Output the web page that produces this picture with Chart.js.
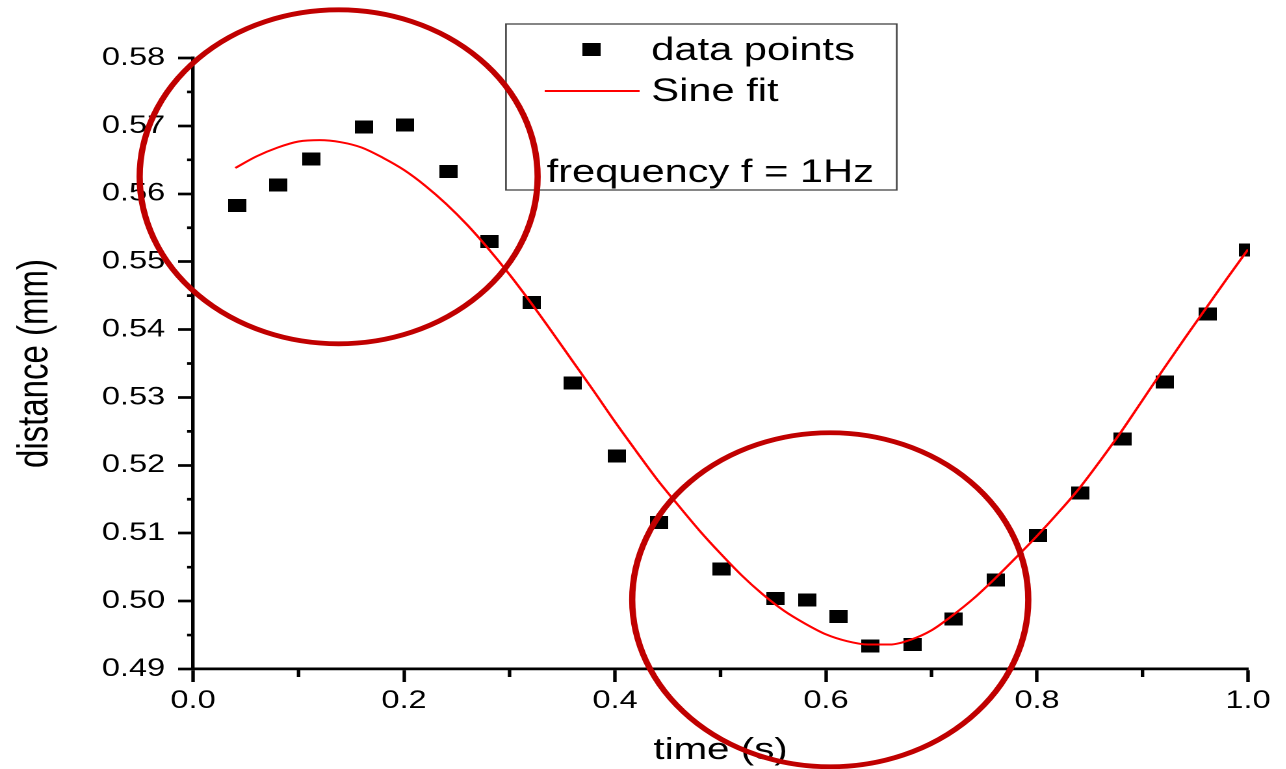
<!DOCTYPE html>
<html>
<head>
<meta charset="utf-8">
<title>Distance vs time with sine fit</title>
<style>
  html, body { margin: 0; padding: 0; background: #fff; overflow: hidden; }
  #wrap { width: 989px; height: 769px; transform: scaleX(1.3); transform-origin: 0 0; }
  canvas { display: block; }
</style>
<script src="https://cdn.jsdelivr.net/npm/chart.js@4.4.1/dist/chart.umd.min.js"></script>
</head>
<body>
<div id="wrap"><canvas id="chart" width="989" height="769"></canvas></div>
<script>
// Measured samples: time (s) and distance (mm)
const timeX = [0.042, 0.081, 0.112, 0.162, 0.201, 0.242, 0.281, 0.321, 0.360, 0.402,
               0.442, 0.501, 0.552, 0.582, 0.612, 0.642, 0.682, 0.721, 0.761, 0.801,
               0.841, 0.881, 0.921, 0.962, 1.000];
const distanceY = [0.5583, 0.5613, 0.5651, 0.5698, 0.5701, 0.5633, 0.5530, 0.5440, 0.5321, 0.5214,
                   0.5116, 0.5047, 0.5004, 0.5002, 0.4977, 0.4934, 0.4936, 0.4974, 0.5031, 0.5097,
                   0.5159, 0.5239, 0.5323, 0.5423, 0.5517];

// Sine fit curve sampled along the time axis
const fitX = [0.04, 0.06, 0.08, 0.10, 0.12, 0.14, 0.16, 0.18, 0.20, 0.22,
              0.24, 0.26, 0.28, 0.30, 0.32, 0.34, 0.36, 0.38, 0.40, 0.42,
              0.44, 0.46, 0.48, 0.50, 0.52, 0.54, 0.56, 0.58, 0.60, 0.62,
              0.64, 0.66, 0.68, 0.70, 0.72, 0.74, 0.76, 0.78, 0.80, 0.82,
              0.84, 0.86, 0.88, 0.90, 0.92, 0.94, 0.96, 0.98, 1.00];
const fitY = [0.5638, 0.5655, 0.5668, 0.5677, 0.5679, 0.5676, 0.5668, 0.5653, 0.5635, 0.5612,
              0.5585, 0.5554, 0.5519, 0.5481, 0.5440, 0.5397, 0.5353, 0.5309, 0.5264, 0.5221,
              0.5179, 0.5141, 0.5104, 0.5070, 0.5038, 0.5010, 0.4986, 0.4967, 0.4951, 0.4941,
              0.4936, 0.4936, 0.4943, 0.4957, 0.4979, 0.5004, 0.5033, 0.5064, 0.5096, 0.5130,
              0.5166, 0.5207, 0.5250, 0.5296, 0.5342, 0.5387, 0.5431, 0.5475, 0.5518];

// Axis ticks
const xTickValues = [0.0, 0.2, 0.4, 0.6, 0.8, 1.0];
const xTickLabels = ['0.0', '0.2', '0.4', '0.6', '0.8', '1.0'];
const xMinorTicks = [0.1, 0.3, 0.5, 0.7, 0.9];
const yTickValues = [0.49, 0.50, 0.51, 0.52, 0.53, 0.54, 0.55, 0.56, 0.57, 0.58];
const yTickLabels = ['0.49', '0.50', '0.51', '0.52', '0.53', '0.54', '0.55', '0.56', '0.57', '0.58'];
const yMinorTicks = [0.495, 0.505, 0.515, 0.525, 0.535, 0.545, 0.555, 0.565, 0.575];

// Highlighted regions (centre and radii in data units)
const highlightX = [0.138, 0.604];
const highlightY = [0.5625, 0.5002];
const highlightRX = [0.1886, 0.1877];
const highlightRY = [0.0246, 0.0246];

const FONT = '"Liberation Sans", Arial, sans-serif';

// Filled square marker
const marker = document.createElement('canvas');
marker.width = 14;
marker.height = 13;
(function () {
  const m = marker.getContext('2d');
  m.fillStyle = '#000';
  m.fillRect(0, 0, 14, 13);
})();

const overlay = {
  id: 'overlay',
  afterDraw(chart) {
    const { ctx, scales: { x, y } } = chart;
    ctx.save();

    // minor ticks
    ctx.strokeStyle = '#000';
    ctx.lineWidth = 2.7;
    ctx.beginPath();
    xMinorTicks.forEach(v => {
      const px = x.getPixelForValue(v);
      ctx.moveTo(px, x.top);
      ctx.lineTo(px, x.top + 8);
    });
    yMinorTicks.forEach(v => {
      const py = y.getPixelForValue(v);
      ctx.moveTo(y.right, py);
      ctx.lineTo(y.right - 4.6, py);
    });
    ctx.stroke();

    // legend box
    ctx.fillStyle = '#fff';
    ctx.fillRect(389.2, 24, 300.6, 166);
    ctx.strokeStyle = '#444';
    ctx.lineWidth = 1.3;
    ctx.strokeRect(389.2, 24, 300.6, 166);
    ctx.drawImage(marker, 455 - 7, 49.5 - 6.5, 14, 13);
    ctx.strokeStyle = '#ff0000';
    ctx.lineWidth = 2;
    ctx.beginPath();
    ctx.moveTo(419, 91);
    ctx.lineTo(492, 91);
    ctx.stroke();
    ctx.fillStyle = '#000';
    ctx.font = '32px ' + FONT;
    ctx.textBaseline = 'alphabetic';
    ctx.textAlign = 'left';
    ctx.fillText('data points', 501, 60);
    ctx.fillText('Sine fit', 501, 101);
    ctx.fillText('frequency f = 1Hz', 420.5, 182);

    // highlight ellipses
    ctx.strokeStyle = '#c00000';
    ctx.lineWidth = 4.8;
    for (let i = 0; i < highlightX.length; i++) {
      const cx = x.getPixelForValue(highlightX[i]);
      const cy = y.getPixelForValue(highlightY[i]);
      const rx = x.getPixelForValue(highlightX[i] + highlightRX[i]) - cx;
      const ry = cy - y.getPixelForValue(highlightY[i] + highlightRY[i]);
      ctx.beginPath();
      ctx.ellipse(cx, cy, rx, ry, 0, 0, Math.PI * 2);
      ctx.stroke();
    }
    ctx.restore();
  }
};

new Chart(document.getElementById('chart'), {
  type: 'scatter',
  data: {
    datasets: [
      {
        label: 'Sine fit',
        data: fitX.map((v, i) => ({ x: v, y: fitY[i] })),
        showLine: true,
        borderColor: '#ff0000',
        borderWidth: 2,
        pointRadius: 0,
        cubicInterpolationMode: 'monotone',
        order: 0
      },
      {
        label: 'data points',
        data: timeX.map((v, i) => ({ x: v, y: distanceY[i] })),
        pointStyle: marker,
        pointRadius: 7,
        showLine: false,
        order: 1,
        clip: { left: 20, top: 20, right: 1.5, bottom: 20 }
      }
    ]
  },
  options: {
    responsive: false,
    animation: false,
    devicePixelRatio: 2,
    layout: { padding: { top: 58, right: 29, left: 0, bottom: 0 } },
    plugins: { legend: { display: false }, tooltip: { enabled: false } },
    scales: {
      x: {
        type: 'linear',
        min: 0,
        max: 1,
        afterBuildTicks: s => { s.ticks = xTickValues.map(v => ({ value: v })); },
        afterFit: s => { s.height = 100; },
        ticks: {
          callback: (v, i) => xTickLabels[i],
          font: { family: FONT, size: 25 },
          color: '#000',
          padding: 4,
          maxRotation: 0,
          autoSkip: false
        },
        grid: { drawOnChartArea: false, drawTicks: true, tickLength: 13, tickWidth: 2.7, tickColor: '#000' },
        border: { display: true, color: '#000', width: 2.7 },
        title: { display: true, text: 'time (s)', font: { family: FONT, size: 31 }, color: '#000', padding: { top: 0, bottom: 0 } }
      },
      y: {
        type: 'linear',
        min: 0.49,
        max: 0.58,
        afterBuildTicks: s => { s.ticks = yTickValues.map(v => ({ value: v })); },
        afterFit: s => { s.width = 148.5; },
        ticks: {
          callback: (v, i) => yTickLabels[i],
          font: { family: FONT, size: 25 },
          color: '#000',
          padding: 10,
          autoSkip: false
        },
        grid: { drawOnChartArea: false, drawTicks: true, tickLength: 11.5, tickWidth: 2.7, tickColor: '#000' },
        border: { display: true, color: '#000', width: 2.7 },
        title: { display: true, text: 'distance (mm)', font: { family: FONT, size: 33 }, color: '#000', padding: { top: 7.5, bottom: 0 } }
      }
    }
  },
  plugins: [overlay]
});
</script>
</body>
</html>
